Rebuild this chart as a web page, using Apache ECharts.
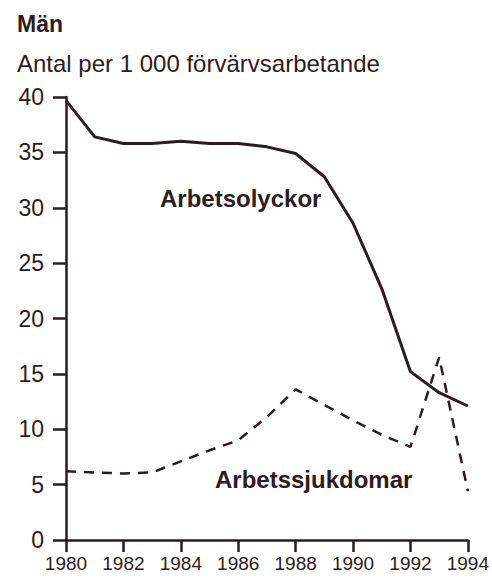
<!DOCTYPE html>
<html><head><meta charset="utf-8">
<script src="https://cdn.jsdelivr.net/npm/echarts@6/dist/echarts.min.js"></script>
<style>html,body{margin:0;padding:0;background:#fff}#c{width:492px;height:578px}</style>
</head><body><div id="c"></div>
<script>
const years = [1980,1981,1982,1983,1984,1985,1986,1987,1988,1989,1990,1991,1992,1993,1994];
const arbetsolyckor = [39.7,36.4,35.8,35.8,36.0,35.8,35.8,35.5,34.9,32.8,28.6,22.7,15.2,13.3,12.1];
const arbetssjukdomar = [6.2,6.1,6.0,6.1,7.1,8.1,9.0,11.1,13.6,12.2,10.8,9.5,8.4,16.5,4.4];
const yTicks = [0,5,10,15,20,25,30,35,40];
const xTicks = [1980,1982,1984,1986,1988,1990,1992,1994];
const title = 'Män';
const subtitle = 'Antal per 1 000 förvärvsarbetande';
const seriesNames = ['Arbetsolyckor','Arbetssjukdomar'];

const ink = '#2a1c20';
const font = 'Helvetica, Arial, "Liberation Sans", sans-serif';
const chart = echarts.init(document.getElementById('c'), null, {renderer:'svg'});
chart.setOption({
  backgroundColor:'#fff',
  animation:false,
  grid:{left:66,right:22,top:97,bottom:38,containLabel:false},
  xAxis:{type:'value',min:xTicks[0],max:xTicks[xTicks.length-1],interval:2,
    axisLine:{lineStyle:{color:ink,width:2.5}},
    axisTick:{length:12,lineStyle:{color:ink,width:2.5}},
    axisLabel:{color:ink,fontFamily:font,fontSize:19,margin:14,formatter:v=>String(v)},
    splitLine:{show:false}},
  yAxis:{type:'value',min:yTicks[0],max:yTicks[yTicks.length-1],interval:5,
    axisLine:{show:true,lineStyle:{color:ink,width:2.5}},
    axisTick:{show:true,length:13,lineStyle:{color:ink,width:2.5}},
    axisLabel:{color:ink,fontFamily:font,fontSize:23,margin:22},
    splitLine:{show:false}},
  graphic:[
    {type:'text',left:17,top:12,style:{text:title,font:'bold 23px '+font,fill:ink}},
    {type:'text',left:17,top:51,style:{text:subtitle,font:'24px '+font,fill:ink}},
    {type:'text',left:160,top:186,style:{text:seriesNames[0],font:'bold 24px '+font,fill:ink}},
    {type:'text',left:215,top:467,style:{text:seriesNames[1],font:'bold 24px '+font,fill:ink}}
  ],
  series:[
    {name:seriesNames[0],type:'line',symbol:'none',data:years.map((y,i)=>[y,arbetsolyckor[i]]),
      lineStyle:{color:ink,width:3}},
    {name:seriesNames[1],type:'line',symbol:'none',data:years.map((y,i)=>[y,arbetssjukdomar[i]]),
      lineStyle:{color:ink,width:2.5,type:[10,8]}}
  ]
});
</script></body></html>
